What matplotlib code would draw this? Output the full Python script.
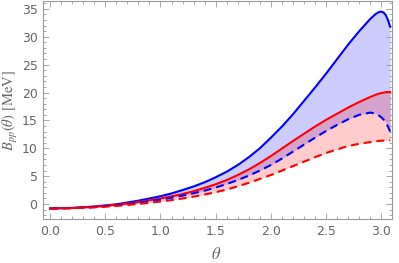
import numpy as np
import matplotlib
matplotlib.use("Agg")
import matplotlib.pyplot as plt
from matplotlib.ticker import MultipleLocator

theta = [0, 0.2, 0.4, 0.6, 0.8,
         1.0, 1.1, 1.2, 1.3, 1.4, 1.5, 1.6, 1.7, 1.8, 1.9,
         2.0, 2.1, 2.2, 2.3, 2.4, 2.5, 2.6, 2.7, 2.8, 2.9,
         2.95, 2.98, 3.0, 3.02, 3.04, 3.06, 3.08]
blue_solid = [-0.8, -0.7, -0.45, -0.05, 0.6,
              1.4, 1.9, 2.5, 3.15, 3.9, 4.8, 5.8, 7.0, 8.4, 10.0,
              11.9, 13.9, 16.1, 18.5, 20.9, 23.4, 26.0, 28.6, 31.0, 33.2,
              34.1, 34.45, 34.5, 34.35, 33.9, 33.0, 31.8]
blue_dashed = [-0.8, -0.74, -0.55, -0.25, 0.2,
               0.8, 1.12, 1.5, 1.93, 2.4, 2.95, 3.6, 4.3, 5.1, 6.0,
               7.0, 8.15, 9.4, 10.65, 11.9, 13.1, 14.2, 15.2, 16.0, 16.4,
               16.2, 15.85, 15.55, 15.15, 14.6, 13.9, 13.0]
red_solid = [-0.8, -0.72, -0.5, -0.15, 0.35,
             1.0, 1.38, 1.8, 2.3, 2.9, 3.55, 4.3, 5.2, 6.2, 7.35,
             8.6, 9.95, 11.3, 12.6, 13.9, 15.1, 16.2, 17.3, 18.3, 19.2,
             19.6, 19.8, 19.9, 19.98, 20.05, 20.1, 20.1]
red_dashed = [-0.8, -0.76, -0.6, -0.35, 0.0,
              0.45, 0.7, 1.0, 1.33, 1.7, 2.12, 2.6, 3.17, 3.8, 4.5,
              5.2, 6.0, 6.8, 7.6, 8.4, 9.15, 9.8, 10.4, 10.8, 11.1,
              11.25, 11.32, 11.35, 11.38, 11.4, 11.4, 11.4]

plt.rcParams['mathtext.fontset'] = 'stix'
fig = plt.figure(figsize=(3.99, 2.63), dpi=100)
ax = fig.add_axes([0.108, 0.167, 0.874, 0.829])

ax.fill_between(theta, blue_dashed, blue_solid, color='blue', alpha=0.2, lw=0)
ax.fill_between(theta, red_dashed, red_solid, color='red', alpha=0.2, lw=0)
ax.plot(theta, blue_solid, color='blue', lw=1.5)
ax.plot(theta, red_solid, color='red', lw=1.5)
ax.plot(theta, blue_dashed, color='blue', lw=1.5, dashes=(3.8, 2.4))
ax.plot(theta, red_dashed, color='red', lw=1.5, dashes=(3.8, 2.4))

ax.set_xlim(-0.063, 3.095)
ax.set_ylim(-2.7, 36.4)

gray = '#999999'
for s in ax.spines.values():
    s.set_color(gray)
    s.set_linewidth(0.8)
ax.xaxis.set_major_locator(MultipleLocator(0.5))
ax.xaxis.set_minor_locator(MultipleLocator(0.1))
ax.yaxis.set_major_locator(MultipleLocator(5))
ax.yaxis.set_minor_locator(MultipleLocator(1))
ax.tick_params(which='both', direction='in', top=True, right=True, color=gray,
               labelcolor='#666666', labelsize=9, width=0.6)
ax.tick_params(which='major', length=4, pad=4)
ax.tick_params(which='minor', length=2)
ax.xaxis.set_major_formatter(plt.FuncFormatter(lambda v, p: f"{v:.1f}"))

ax.set_xlabel(r'$\theta$', fontsize=12, color='#666666')
ax.xaxis.set_label_coords(0.496, -0.12)
ax.set_ylabel(r'$B_{pp}(\theta)$ [MeV]', fontsize=10.5, color='#666666',
              family='STIXGeneral')
ax.yaxis.set_label_coords(-0.066, 0.5)

fig.savefig('out.png', dpi=100)
